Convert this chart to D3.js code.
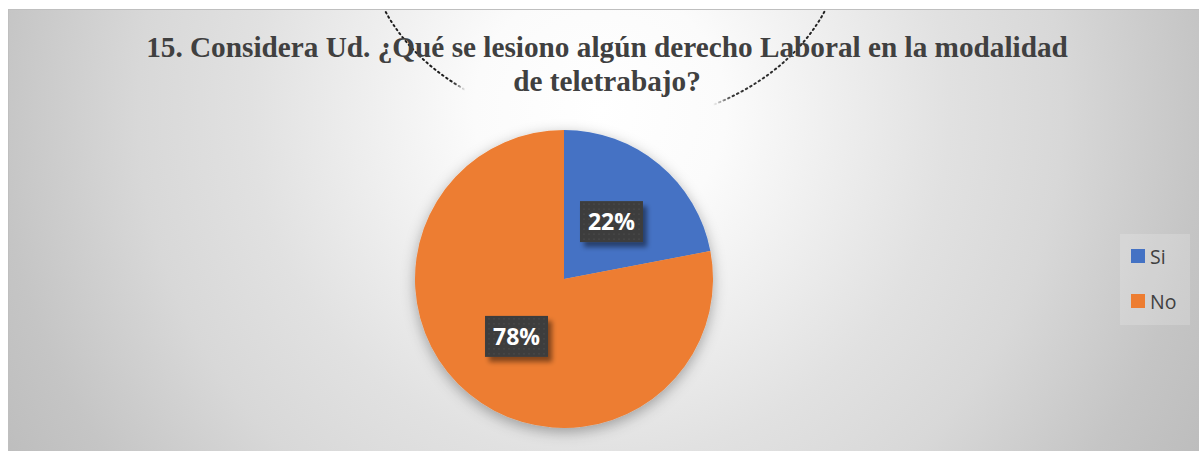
<!DOCTYPE html>
<html>
<head>
<meta charset="utf-8">
<script src="https://cdn.jsdelivr.net/npm/d3@7"></script>
<style>
  html, body { margin: 0; padding: 0; background: #ffffff; }
  svg { display: block; }
</style>
</head>
<body>
<svg id="chart" width="1199" height="451"></svg>
<script>
// Survey answers, question 15
const categories = ["Si", "No"];
const shares = [22, 78];
const sliceLabels = ["22%", "78%"];
const colors = ["#4472C4", "#ED7D31"];
const titleLines = [
  "15. Considera Ud. ¿Qué se lesiono algún derecho Laboral en la modalidad",
  "de teletrabajo?"
];

const W = 1199, H = 451;
const svg = d3.select("#chart");
const defs = svg.append("defs");

// Background: soft radial grey gradient
const bg = defs.append("radialGradient")
  .attr("id", "bgGrad")
  .attr("gradientUnits", "userSpaceOnUse")
  .attr("cx", 600).attr("cy", 110).attr("r", 700);
[[0, "#ffffff"], [0.18, "#fbfbfb"], [0.5, "#e1e1e1"], [0.66, "#d8d8d8"],
 [0.86, "#c5c5c5"], [1, "#bcbcbc"]].forEach(([o, c]) =>
  bg.append("stop").attr("offset", o).attr("stop-color", c));

// Soft shadow beneath the pie
const pieShadow = defs.append("filter").attr("id", "pieShadow")
  .attr("x", "-20%").attr("y", "-20%").attr("width", "140%").attr("height", "140%");
pieShadow.append("feDropShadow")
  .attr("dx", 0).attr("dy", 4).attr("stdDeviation", 7)
  .attr("flood-color", "#000").attr("flood-opacity", 0.32);

// Shadow for the value boxes
const boxShadow = defs.append("filter").attr("id", "boxShadow")
  .attr("x", "-30%").attr("y", "-30%").attr("width", "160%").attr("height", "170%");
boxShadow.append("feDropShadow")
  .attr("dx", 4).attr("dy", 5).attr("stdDeviation", 2.5)
  .attr("flood-color", "#000").attr("flood-opacity", 0.45);

// Dotted texture for the value boxes
const pat = defs.append("pattern").attr("id", "dots")
  .attr("patternUnits", "userSpaceOnUse").attr("width", 5).attr("height", 5);
pat.append("rect").attr("width", 5).attr("height", 5).attr("fill", "#3d3d3d");
pat.append("rect").attr("x", 2).attr("y", 2).attr("width", 1).attr("height", 1).attr("fill", "#575757");

// Fade mask for the decorative dotted arc: visible only near both ends
const arcFade = defs.append("linearGradient").attr("id", "arcFade")
  .attr("gradientUnits", "userSpaceOnUse").attr("x1", 360).attr("x2", 850).attr("y1", 0).attr("y2", 0);
[[0, 1], [0.19, 1], [0.215, 0], [0.72, 0], [0.76, 0.9], [1, 1]].forEach(([o, a]) =>
  arcFade.append("stop").attr("offset", o).attr("stop-color", "#fff").attr("stop-opacity", a));
const mask = defs.append("mask").attr("id", "arcMask");
mask.append("rect").attr("x", 0).attr("y", 10).attr("width", W).attr("height", H).attr("fill", "url(#arcFade)");

// Chart area
svg.append("rect")
  .attr("x", 8.5).attr("y", 9.5).attr("width", W - 8).attr("height", H - 9)
  .attr("fill", "url(#bgGrad)")
  .attr("stroke", "#bfbfbf").attr("stroke-width", 1);

// Decorative dotted arc around the title
const deco = svg.append("g").attr("mask", "url(#arcMask)");
deco.append("ellipse")
  .attr("cx", 605).attr("cy", -60).attr("rx", 238).attr("ry", 185)
  .attr("fill", "none").attr("stroke", "#1e1e1e").attr("stroke-width", 2)
  .attr("stroke-dasharray", "1.5 3.5").attr("stroke-linecap", "round");

// Title, fitted to its line width
const title = svg.append("g").attr("fill", "#404040")
  .attr("font-family", "'Liberation Serif', 'Times New Roman', serif")
  .attr("font-weight", "bold").attr("text-anchor", "middle");
const probe = title.append("text").attr("font-size", 100).text(titleLines[0]);
const fontSize = 100 * 922 / probe.node().getComputedTextLength();
probe.remove();
title.selectAll("text").data(titleLines).join("text")
  .attr("x", 607)
  .attr("y", (d, i) => 57 + i * 34)
  .attr("font-size", fontSize)
  .text(d => d);

// Pie
const cx = 564, cy = 279, radius = 149;
const pie = d3.pie().sort(null).value(d => d)(shares);
const arc = d3.arc().innerRadius(0).outerRadius(radius);
const labelArc = d3.arc().innerRadius(0).outerRadius(radius);
const color = d3.scaleOrdinal().domain(categories).range(colors);

const pieG = svg.append("g").attr("transform", `translate(${cx},${cy})`);
pieG.append("g").attr("filter", "url(#pieShadow)")
  .selectAll("path").data(pie).join("path")
  .attr("d", arc)
  .attr("fill", (d, i) => color(categories[i]));

// Value boxes at slice centroids
const boxW = 63, boxH = 41;
const labels = pieG.selectAll("g.lbl").data(pie).join("g")
  .attr("class", "lbl")
  .attr("transform", d => {
    const [x, y] = labelArc.centroid(d);
    return `translate(${x},${y})`;
  });
labels.append("rect")
  .attr("x", -boxW / 2).attr("y", -boxH / 2).attr("width", boxW).attr("height", boxH)
  .attr("fill", "url(#dots)").attr("filter", "url(#boxShadow)");
labels.append("text")
  .attr("text-anchor", "middle").attr("dy", "0.36em")
  .attr("fill", "#ffffff")
  .attr("font-family", "'Open Sans', sans-serif").attr("font-weight", "bold")
  .attr("font-size", 23)
  .text((d, i) => sliceLabels[i]);

// Legend
const legend = svg.append("g");
legend.append("rect")
  .attr("x", 1120).attr("y", 234).attr("width", 70).attr("height", 91)
  .attr("fill", "#ffffff").attr("fill-opacity", 0.18);
const ly = d3.scalePoint().domain(categories).range([256, 301]);
const items = legend.selectAll("g.item").data(categories).join("g")
  .attr("class", "item")
  .attr("transform", d => `translate(1131,${ly(d)})`);
items.append("rect")
  .attr("x", 0).attr("y", -7).attr("width", 14).attr("height", 14)
  .attr("fill", d => color(d));
items.append("text")
  .attr("x", 19).attr("y", 7.5)
  .attr("fill", "#404040")
  .attr("font-family", "'Open Sans', sans-serif")
  .attr("font-size", 19.5)
  .text(d => d);
</script>
</body>
</html>
